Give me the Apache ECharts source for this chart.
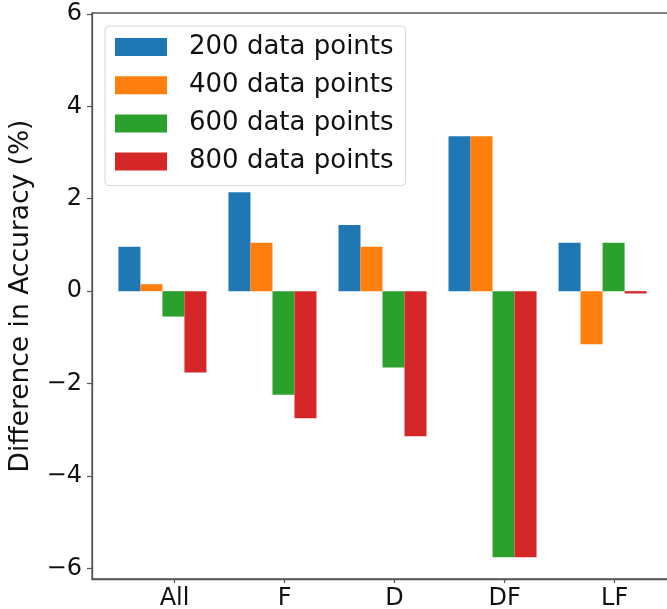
<!DOCTYPE html>
<html>
<head>
<meta charset="utf-8">
<script src="https://cdn.jsdelivr.net/npm/echarts@6/dist/echarts.min.js"></script>
<style>
html,body{margin:0;padding:0;background:#fff;}
#chart{width:667px;height:609px;}
</style>
</head>
<body>
<div id="chart"></div>
<script>
const categories = ['All', 'F', 'D', 'DF', 'LF'];
const seriesNames = ['200 data points', '400 data points', '600 data points', '800 data points'];
const values200 = [0.96, 2.14, 1.43, 3.35, 1.05];
const values400 = [0.15, 1.05, 0.96, 3.35, -1.15];
const values600 = [-0.55, -2.24, -1.65, -5.76, 1.05];
const values800 = [-1.76, -2.75, -3.14, -5.76, -0.05];
const yTicks = [-6, -4, -2, 0, 2, 4, 6];

const colors = ['#1f77b4', '#ff7f0e', '#2ca02c', '#d62728'];
const allValues = [values200, values400, values600, values800];
const barW = 0.2;
const xMin = -0.24, xMax = 5.04;
const gridLeft = 92, gridWidth = 581;
const pxPerUnit = gridWidth / (xMax - xMin);
const tickPos = categories.map((c, i) => i + 0.51);
const font = 'DejaVu Sans';

const chart = echarts.init(document.getElementById('chart'), null, {renderer: 'canvas'});
chart.setOption({
  animation: false,
  color: colors,
  grid: {
    left: gridLeft, top: 13, width: gridWidth, height: 566,
    outerBoundsMode: 'none', containLabel: false,
    show: true, borderColor: '#555', borderWidth: 1.3, backgroundColor: 'transparent'
  },
  legend: {
    orient: 'vertical',
    left: 105, top: 26,
    data: seriesNames,
    icon: 'rect',
    itemWidth: 52, itemHeight: 18, itemGap: 12.2,
    padding: [8, 12, 11, 10],
    backgroundColor: 'rgba(255,255,255,0.85)',
    borderColor: '#d6d6d6', borderWidth: 1, borderRadius: 4,
    textStyle: {fontFamily: font, fontSize: 26, color: '#111', padding: [0, 0, 0, 17]},
    itemStyle: {borderWidth: 0}
  },
  xAxis: {
    type: 'value', min: xMin, max: xMax,
    splitLine: {show: false},
    axisLine: {show: true, onZero: false, lineStyle: {color: '#555', width: 1.3}},
    axisTick: {show: true, length: 4, lineStyle: {color: '#555', width: 1.2}, customValues: tickPos},
    axisLabel: {
      customValues: tickPos, margin: 8,
      fontFamily: font, fontSize: 24, color: '#111',
      formatter: function (v) {
        let best = 0;
        tickPos.forEach((p, i) => { if (Math.abs(p - v) < Math.abs(tickPos[best] - v)) best = i; });
        return categories[best];
      }
    }
  },
  yAxis: {
    type: 'value', min: -6.23, max: 6.02,
    name: 'Difference in Accuracy (%)',
    nameLocation: 'middle', nameGap: 57,
    nameTextStyle: {fontFamily: font, fontSize: 26.5, color: '#111'},
    splitLine: {show: false},
    axisLine: {show: true, onZero: false, lineStyle: {color: '#555', width: 1.3}},
    axisTick: {show: true, length: 5, lineStyle: {color: '#555', width: 1.2}, customValues: yTicks},
    axisLabel: {
      customValues: yTicks, margin: 10,
      fontFamily: font, fontSize: 24, color: '#111',
      formatter: function (v) { return v < 0 ? '\u2212' + Math.abs(v) : String(v); }
    }
  },
  series: allValues.map((vals, k) => ({
    name: seriesNames[k],
    type: 'bar',
    barWidth: barW * pxPerUnit,
    barGap: '-100%',
    itemStyle: {color: colors[k]},
    data: vals.map((v, i) => [i + barW * k + barW / 2, v])
  }))
});
</script>
</body>
</html>
